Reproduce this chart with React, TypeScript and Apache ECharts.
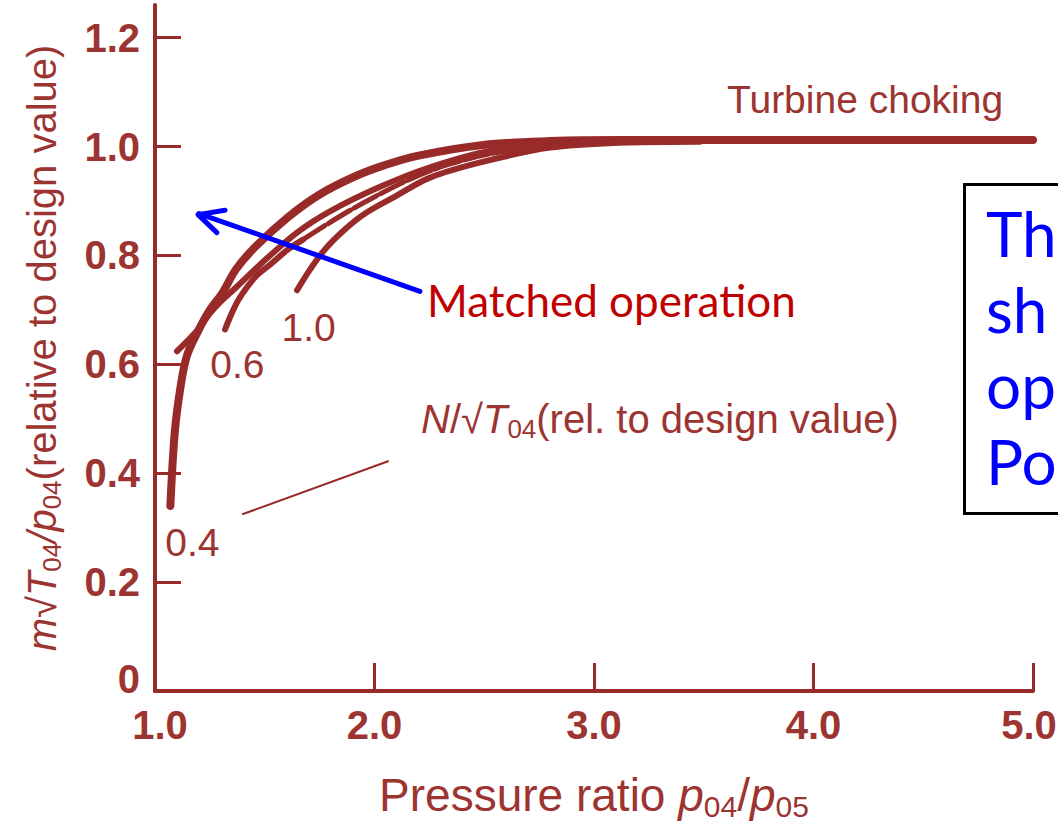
import React, { useEffect, useRef } from 'react';
import * as echarts from 'echarts';

// ---- data (x = pressure ratio p04/p05, y = relative mass flow) ----
const X_TICKS = [1, 2, 3, 4, 5];
const Y_TICKS = [0, 0.2, 0.4, 0.6, 0.8, 1.0, 1.2];

// outer speed line (0.4) that continues as the turbine choking line
const curveChoke = [
  [1.07, 0.34], [1.09, 0.475], [1.115, 0.555], [1.145, 0.615], [1.195, 0.66],
  [1.25, 0.70], [1.305, 0.73], [1.37, 0.775], [1.455, 0.815], [1.605, 0.87],
  [1.75, 0.912], [1.91, 0.945], [2.04, 0.965], [2.195, 0.983], [2.495, 1.003],
  [2.8, 1.01], [3.12, 1.012], [5.0, 1.012],
];
// speed line starting with the small hook
const curveHook = [
  [1.10, 0.624], [1.15, 0.644], [1.196, 0.664], [1.251, 0.694], [1.296, 0.714],
  [1.374, 0.743], [1.478, 0.783], [1.647, 0.842], [1.797, 0.881], [2.025, 0.926],
  [2.253, 0.962], [2.526, 0.992], [2.845, 1.006], [3.12, 1.01],
];
// 0.6 speed line (solid part)
const curve06 = [
  [1.319, 0.664], [1.351, 0.695], [1.387, 0.723], [1.456, 0.76], [1.524, 0.783],
  [1.606, 0.811], [1.674, 0.829],
];
// broken (dashed) continuation
const curveDashed = [
  [1.674, 0.829], [1.843, 0.872], [1.993, 0.906], [2.162, 0.94], [2.344, 0.968],
  [2.572, 0.99], [2.845, 1.004],
];
// 1.0 speed line
const curve10 = [
  [1.647, 0.736], [1.706, 0.774], [1.774, 0.811], [1.866, 0.848], [1.957, 0.877],
  [2.093, 0.908], [2.253, 0.943], [2.494, 0.972], [2.8, 0.998], [3.118, 1.007],
  [3.483, 1.009],
];

// annotation anchors (data coordinates)
const speedLabels: [string, number, number][] = [
  ['0.4', 1.17, 0.272],
  ['0.6', 1.375, 0.6],
  ['1.0', 1.70, 0.667],
];
const chokeLabel: [string, number, number] = ['Turbine choking', 4.235, 1.086];
const speedTitle: [number, number] = [3.30, 0.494];
const matchedLabel: [string, number, number] = ['Matched operation', 2.239, 0.719];
const pointerLine = [[1.401, 0.325], [2.062, 0.422]];
const arrowShaft = [[2.207, 0.734], [1.2, 0.877]];
const arrowHead = [[1.319, 0.883], [1.196, 0.875], [1.282, 0.842]];
const boxLines = ['Th', 'sh', 'op', 'Po'];

const LINE = '#982a2a';
const TEXT = '#9c3431';
const FONT = '"Liberation Sans", Arial, sans-serif';

function richSet(size: number) {
  return {
    n: { fontFamily: FONT, fontSize: size, color: TEXT, lineHeight: size, padding: [0, 0, 6, 0] },
    i: { fontFamily: FONT, fontSize: size, color: TEXT, fontStyle: 'italic', lineHeight: size, padding: [0, 0, 6, 0] },
    s: { fontFamily: FONT, fontSize: Math.round(size * 0.66), color: TEXT, lineHeight: Math.round(size * 0.66), verticalAlign: 'bottom' },
  };
}

function lineSeries(data: number[][], width: number, type: any = 'solid', color = LINE) {
  return {
    type: 'line',
    data,
    symbol: 'none',
    showSymbol: false,
    smooth: 0.35,
    clip: false,
    silent: true,
    lineStyle: { color, width, type, cap: 'round', join: 'round', opacity: 1 },
    z: 3,
  };
}

function labelSeries(items: { value: number[]; name: string }[], label: any) {
  return {
    type: 'scatter',
    silent: true,
    symbolSize: 0,
    z: 5,
    itemStyle: { opacity: 1 },
    data: items,
    label: { show: true, opacity: 1, ...label },
  };
}

const tickFont = { fontFamily: FONT, fontSize: 40, fontWeight: 'bold', color: TEXT };

export default function App() {
  const ref = useRef<HTMLDivElement>(null);

  useEffect(() => {
    const chart = echarts.init(ref.current!, null, { renderer: 'svg' });
    const option: any = {
      animation: false,
      backgroundColor: '#ffffff',
      grid: { left: 155, right: 25, top: 5, bottom: 136, containLabel: false, outerBoundsMode: 'none' },
      xAxis: {
        type: 'value',
        min: 1,
        max: 5,
        interval: 1,
        splitLine: { show: false },
        axisLine: { lineStyle: { color: LINE, width: 4 } },
        axisTick: { inside: true, length: 28, lineStyle: { color: LINE, width: 3 } },
        axisLabel: {
          margin: 14,
          ...tickFont,
          formatter: (v: number) =>
            v === X_TICKS[0]
              ? '{a|' + v.toFixed(1) + '}'
              : v === X_TICKS[X_TICKS.length - 1]
                ? '{b|' + v.toFixed(1) + '}'
                : v.toFixed(1),
          rich: {
            a: { ...tickFont, padding: [0, 0, 0, 10] },
            b: { ...tickFont, padding: [0, 8, 0, 0] },
          },
        },
        name: '{n|Pressure ratio }{i|p}{s|04}{n|/}{i|p}{s|05}',
        nameLocation: 'middle',
        nameGap: 84,
        nameTextStyle: { rich: richSet(46) },
      },
      yAxis: {
        type: 'value',
        min: 0,
        max: 1.26,
        splitLine: { show: false },
        axisLine: { lineStyle: { color: LINE, width: 4 } },
        axisTick: {
          inside: true,
          length: 26,
          customValues: Y_TICKS,
          lineStyle: { color: LINE, width: 3 },
        },
        axisLabel: {
          margin: 15,
          ...tickFont,
          customValues: Y_TICKS,
          formatter: (v: number) => (v === 0 ? '{z|0}' : v.toFixed(1)),
          rich: { z: { ...tickFont, padding: [0, 0, 24, 0] } },
        },
        name: '{i|m}{n|√}{i|T}{s|04}{i|/p}{s|04}{n|(relative to design value)}',
        nameLocation: 'middle',
        nameGap: 90,
        nameTextStyle: { rich: richSet(40) },
      },
      series: [
        lineSeries(curveChoke, 8),
        lineSeries(curveHook, 6),
        lineSeries(curve06, 6),
        lineSeries(curveDashed, 5, [26, 4]),
        lineSeries(curve10, 6),
        { ...lineSeries(pointerLine, 2), smooth: false },
        { ...lineSeries(arrowShaft, 5, 'solid', '#0000ff'), smooth: false, z: 6 },
        { ...lineSeries(arrowHead, 5, 'solid', '#0000ff'), smooth: false, z: 6 },
        labelSeries(
          speedLabels.map(([t, x, y]) => ({ value: [x, y], name: t })),
          { position: 'inside', formatter: '{b}', color: TEXT, fontFamily: FONT, fontSize: 39 },
        ),
        labelSeries(
          [{ value: [chokeLabel[1], chokeLabel[2]], name: chokeLabel[0] }],
          { position: 'inside', formatter: '{b}', color: TEXT, fontFamily: FONT, fontSize: 39 },
        ),
        labelSeries(
          [{ value: speedTitle, name: 'speed' }],
          {
            position: 'inside',
            formatter: '{i|N}{n|/√}{i|T}{s|04}{n|(rel. to design value)}',
            rich: richSet(40),
          },
        ),
        labelSeries(
          [{ value: [matchedLabel[1], matchedLabel[2]], name: matchedLabel[0] }],
          {
            position: 'right',
            distance: 0,
            formatter: '{b}',
            color: '#c00000',
            fontFamily: 'Lato, "Noto Sans", sans-serif',
            fontSize: 44,
          },
        ),
      ],
      graphic: [
        {
          type: 'rect',
          left: 963,
          top: 183,
          shape: { width: 120, height: 329 },
          style: { fill: '#ffffff', stroke: '#000000', lineWidth: 3 },
          z: 10,
        },
        {
          type: 'text',
          left: 986,
          top: 195,
          style: {
            text: boxLines.join('\n'),
            fill: '#0000ff',
            font: '62px Lato, "Noto Sans", sans-serif',
            lineHeight: 76,
          },
          z: 11,
        },
      ],
    };
    chart.setOption(option);
    return () => chart.dispose();
  }, []);

  return (
    <div
      ref={ref}
      style={{ position: 'fixed', left: 0, top: 0, width: 1058, height: 827, background: '#ffffff' }}
    />
  );
}
